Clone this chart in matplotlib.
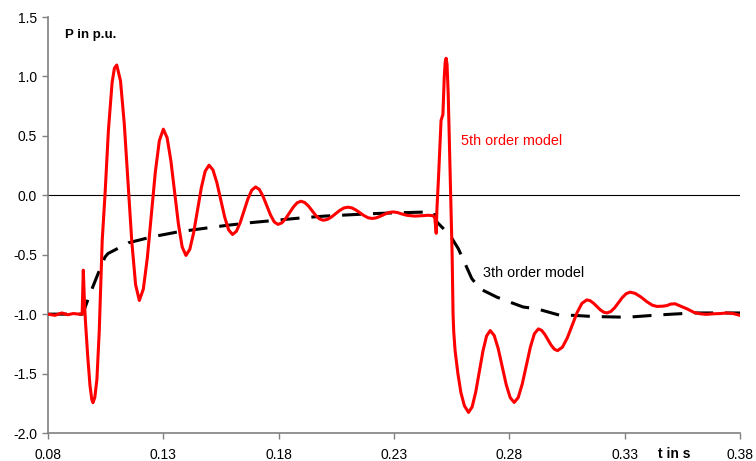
import matplotlib
matplotlib.use("Agg")
import matplotlib.pyplot as plt

plt.rcParams["font.family"] = ["Liberation Sans", "DejaVu Sans"]

# 5th order model (red)
t_5th = [0.0800, 0.0830, 0.0860, 0.0885, 0.0910, 0.0935, 0.0948, 0.0953, 0.0958,
         0.0962, 0.0972, 0.0982, 0.0990, 0.0995, 0.1003, 0.1012, 0.1022, 0.1035,
         0.1047, 0.1062, 0.1078, 0.1088, 0.1098,
         0.11143, 0.11307, 0.1147, 0.11633, 0.11797, 0.1196,
         0.12133, 0.12307, 0.1248, 0.12653, 0.12827, 0.1300,
         0.13163, 0.13327, 0.1349, 0.13653, 0.13817, 0.1398,
         0.14147, 0.14313, 0.1448, 0.14647, 0.14813, 0.1498,
         0.1515, 0.1532, 0.1549, 0.1566, 0.1583, 0.1600,
         0.16167, 0.16333, 0.1650, 0.16667, 0.16833, 0.1700,
         0.17162, 0.17323, 0.17485, 0.17647, 0.17808, 0.1797,
         0.18137, 0.18303, 0.1847, 0.18637, 0.18803, 0.1897,
         0.1913, 0.1929, 0.1945, 0.1961, 0.1977, 0.1993,
         0.20108, 0.20287, 0.20465, 0.20643, 0.20822, 0.2100,
         0.21175, 0.2135, 0.21525, 0.2170, 0.21875, 0.2205,
         0.22202, 0.22353, 0.22505, 0.22657, 0.22808, 0.2296,
         0.2315, 0.2335, 0.2360, 0.2390, 0.2420, 0.2450, 0.2470, 0.2477, 0.2481,
         0.2483, 0.2486, 0.2493, 0.2504, 0.2512, 0.2518, 0.2522, 0.2526, 0.2530,
         0.2535, 0.2540, 0.2546, 0.2552, 0.2556, 0.2559, 0.2565, 0.2577, 0.2590,
         0.2605, 0.2623,
         0.26387, 0.26543, 0.2670, 0.26857, 0.27013, 0.2717,
         0.27343, 0.27517, 0.2769, 0.27863, 0.28037, 0.2821,
         0.28385, 0.2856, 0.28735, 0.2891, 0.29085, 0.2926,
         0.29398, 0.29537, 0.29675, 0.29813, 0.29952, 0.3009,
         0.30302, 0.30513, 0.30725, 0.30937, 0.31148, 0.3136,
         0.31505, 0.3165, 0.31795, 0.3194, 0.32085, 0.3223,
         0.32398, 0.32567, 0.32735, 0.32903, 0.33072, 0.3324,
         0.3345, 0.3370, 0.3396, 0.3420, 0.3440, 0.3465, 0.3483, 0.3500, 0.3519,
         0.3545, 0.3570, 0.3600, 0.3627, 0.3655, 0.3684, 0.3715, 0.3743, 0.3770,
         0.3800]
p_5th = [-1.00, -1.01, -0.99, -1.005, -0.995, -1.00, -1.00, -0.63, -0.90,
         -1.05, -1.35, -1.60, -1.72, -1.745, -1.70, -1.55, -1.15, -0.38,
         0.00, 0.55, 0.95, 1.07, 1.096,
         0.963, 0.601, 0.106, -0.390, -0.752, -0.885,
         -0.789, -0.525, -0.165, 0.196, 0.459, 0.556,
         0.485, 0.291, 0.025, -0.241, -0.435, -0.506,
         -0.455, -0.316, -0.127, 0.063, 0.202, 0.253,
         0.214, 0.107, -0.039, -0.184, -0.291, -0.330,
         -0.303, -0.230, -0.130, -0.030, 0.043, 0.070,
         0.049, -0.009, -0.088, -0.166, -0.224, -0.245,
         -0.232, -0.196, -0.148, -0.099, -0.063, -0.050,
         -0.061, -0.090, -0.130, -0.170, -0.199, -0.210,
         -0.203, -0.183, -0.155, -0.128, -0.107, -0.100,
         -0.106, -0.124, -0.148, -0.171, -0.189, -0.195,
         -0.191, -0.181, -0.168, -0.154, -0.144, -0.140,
         -0.145, -0.158, -0.170, -0.175, -0.172, -0.168, -0.172, -0.19, -0.28,
         -0.32, -0.12, 0.15, 0.63, 0.68, 1.00, 1.12, 1.153, 1.10,
         0.85, 0.45, 0.00, -0.50, -1.00, -1.15, -1.31, -1.50, -1.66,
         -1.77, -1.827,
         -1.781, -1.655, -1.483, -1.310, -1.184, -1.138,
         -1.179, -1.289, -1.441, -1.592, -1.702, -1.743,
         -1.702, -1.588, -1.434, -1.279, -1.165, -1.124,
         -1.136, -1.170, -1.216, -1.261, -1.295, -1.307,
         -1.278, -1.200, -1.094, -0.987, -0.909, -0.880,
         -0.887, -0.908, -0.935, -0.963, -0.983, -0.990,
         -0.978, -0.946, -0.903, -0.859, -0.827, -0.815,
         -0.825, -0.855, -0.895, -0.925, -0.935, -0.933, -0.928, -0.915, -0.913,
         -0.935, -0.955, -0.985, -0.997, -1.002, -0.997, -0.995, -0.990, -0.995,
         -1.010]

# 3th order model (black dashed)
t_3rd = [0.0800, 0.0950, 0.0982, 0.1017, 0.1047, 0.1060, 0.1090, 0.1148, 0.1250,
         0.1358, 0.1470, 0.1575, 0.1680, 0.1790, 0.1900, 0.2000, 0.2100, 0.2200,
         0.2300, 0.2400, 0.2460, 0.2475, 0.2486, 0.2543, 0.2579, 0.2637, 0.2673,
         0.2746, 0.2804, 0.2860, 0.2919, 0.3020, 0.3077, 0.3163, 0.3310, 0.3454,
         0.3598, 0.3727, 0.3800]
p_3rd = [-1.00, -1.00, -0.83, -0.66, -0.52, -0.49, -0.46, -0.40, -0.35,
         -0.31, -0.28, -0.253, -0.23, -0.21, -0.19, -0.175, -0.165, -0.155,
         -0.148, -0.143, -0.14, -0.15, -0.225, -0.337, -0.45, -0.70, -0.787,
         -0.857, -0.90, -0.94, -0.955, -1.01, -1.01, -1.02, -1.026, -1.006,
         -0.99, -0.99, -0.99]

x_ticks = [0.08, 0.13, 0.18, 0.23, 0.28, 0.33, 0.38]
y_ticks = [-2.0, -1.5, -1.0, -0.5, 0.0, 0.5, 1.0, 1.5]

fig = plt.figure(figsize=(7.56, 4.61), dpi=100)
ax = fig.add_axes([48 / 756, 1 - 433 / 461, (740 - 48) / 756, (433 - 17) / 461])

ax.axhline(0.0, color="black", lw=0.8, zorder=1)
ax.plot(t_3rd, p_3rd, color="black", lw=2.2, dashes=(6.2, 3.9), zorder=2)
ax.plot(t_5th, p_5th, color="#ff0000", lw=2.2, zorder=3,
        solid_joinstyle="round")

ax.set_xlim(0.08, 0.38)
ax.set_ylim(-2.0, 1.5)
ax.set_xticks(x_ticks)
ax.set_xticklabels([f"{v:.2f}" for v in x_ticks])
ax.set_yticks(y_ticks)
ax.set_yticklabels([f"{v:.1f}" for v in y_ticks])
ax.tick_params(labelsize=10, length=4, width=1, color="#808080", direction="out")
ax.tick_params(axis="x", pad=7)
ax.tick_params(axis="y", pad=4)

for s in ("top", "right"):
    ax.spines[s].set_visible(False)
for s in ("left", "bottom"):
    ax.spines[s].set_color("#808080")
    ax.spines[s].set_linewidth(1.2)

ax.text(0.0874, 1.35, "P in p.u.", fontsize=9.5, fontweight="bold", va="center")
ax.annotate("t in s", xy=(0.3515, 0), xycoords=("data", "axes fraction"),
            xytext=(0, -10), textcoords="offset points",
            fontsize=10, fontweight="bold", va="top", ha="center")
ax.text(0.259, 0.46, "5th order model", fontsize=10.4, color="#ff0000", va="center")
ax.text(0.2686, -0.65, "3th order model", fontsize=10.4, color="black", va="center")

fig.savefig("out.png", dpi=100)
